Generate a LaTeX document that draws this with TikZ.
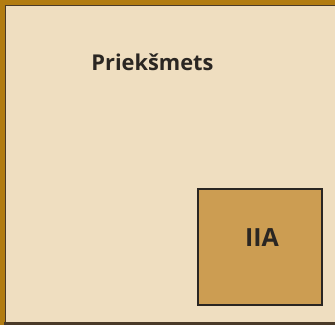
\documentclass[tikz,border=0pt]{standalone}
\usepackage{fontspec}
\setmainfont{Open Sans}
\definecolor{bg}{HTML}{EFDEC0}
\definecolor{band}{HTML}{B27C12}
\definecolor{boxfill}{HTML}{CC9D52}
\definecolor{ink}{HTML}{2A2622}
\definecolor{edge}{HTML}{4A3A28}
\tikzset{
  lbl/.style={font=\bfseries, text=ink, inner sep=0pt},
  innerbox/.style={draw=ink, line width=1.2pt, fill=boxfill}
}
\begin{document}
\begin{tikzpicture}[x=1pt,y=-1pt]
\useasboundingbox (0,0) rectangle (335,325);
\fill[bg] (0,0) rectangle (335,325);
\fill[band] (0,0) rectangle (335,4.5);
\fill[band] (0,0) rectangle (4.5,325);
\draw[edge, line width=1pt] (5,325) -- (5,5) -- (335,5);
\fill[edge] (4,322) rectangle (335,325);
\node[innerbox, minimum width=124pt, minimum height=116pt, inner sep=0pt] (iia) at (260,247) {};
\node[lbl, font=\fontsize{25}{30}\selectfont\bfseries] (t2) at (262,238) {IIA};
\node[lbl, font=\fontsize{21.8}{25}\selectfont\bfseries] (t1) at (152.5,62) {Priekšmets};
\end{tikzpicture}
\end{document}
